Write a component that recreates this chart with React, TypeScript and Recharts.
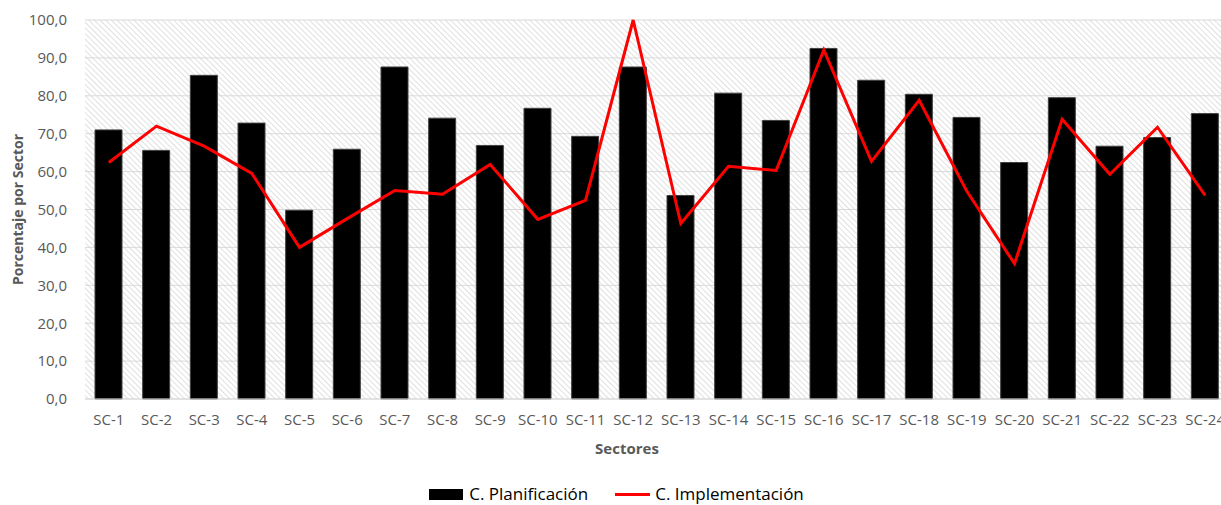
import {
  ComposedChart,
  Bar,
  Line,
  XAxis,
  YAxis,
  CartesianGrid,
  Legend,
} from "recharts";

const sectores = [
  "SC-1", "SC-2", "SC-3", "SC-4", "SC-5", "SC-6", "SC-7", "SC-8",
  "SC-9", "SC-10", "SC-11", "SC-12", "SC-13", "SC-14", "SC-15", "SC-16",
  "SC-17", "SC-18", "SC-19", "SC-20", "SC-21", "SC-22", "SC-23", "SC-24",
];

const planificacion = [
  71.0, 65.6, 85.4, 72.8, 49.8, 65.9, 87.6, 74.1,
  66.9, 76.7, 69.3, 87.6, 53.7, 80.7, 73.5, 92.5,
  84.1, 80.4, 74.3, 62.4, 79.5, 66.7, 69.0, 75.3,
];

const implementacion = [
  62.4, 72.0, 66.7, 59.5, 40.0, 47.6, 55.0, 54.0,
  61.9, 47.4, 52.4, 100.0, 46.3, 61.4, 60.3, 92.1,
  62.7, 78.8, 54.8, 35.7, 73.8, 59.3, 71.7, 53.7,
];

const yTicks = [0, 10, 20, 30, 40, 50, 60, 70, 80, 90, 100];

const data = sectores.map((s, i) => ({
  sector: s,
  plan: planificacion[i],
  impl: implementacion[i],
}));

const FONT = "'Open Sans', sans-serif";
const GRAY = "#595959";

const fmt = (v: number) => v.toFixed(1).replace(".", ",");

// y-axis title, rotated
const YTitle = (props: any) => {
  const vb = props.viewBox || {};
  const cx = (vb.x ?? 0) + 17;
  const cy = (vb.y ?? 0) + (vb.height ?? 0) / 2;
  return (
    <text
      x={cx}
      y={cy}
      transform={`rotate(-90 ${cx} ${cy})`}
      textAnchor="middle"
      dominantBaseline="central"
      fontFamily={FONT}
      fontSize={14}
      fontWeight="bold"
      fill={GRAY}
    >
      Porcentaje por Sector
    </text>
  );
};

const XTitle = (props: any) => {
  const vb = props.viewBox || {};
  const cx = (vb.x ?? 0) + (vb.width ?? 0) / 2;
  return (
    <text
      x={cx - 30}
      y={(vb.y ?? 0) + 49}
      textAnchor="middle"
      dominantBaseline="central"
      fontFamily={FONT}
      fontSize={15}
      fontWeight="bold"
      fill={GRAY}
    >
      Sectores
    </text>
  );
};

const LegendContent = () => (
  <div
    style={{
      display: "flex",
      justifyContent: "center",
      alignItems: "center",
      fontFamily: FONT,
      fontSize: 17,
      lineHeight: "20px",
      color: "#000",
      paddingLeft: 4,
    }}
  >
    <span style={{ display: "inline-block", width: 34, height: 11, background: "#000", marginRight: 6 }} />
    <span style={{ marginRight: 27 }}>C. Planificación</span>
    <span style={{ display: "inline-block", width: 35, height: 3, background: "#ff0000", marginRight: 5 }} />
    <span>C. Implementación</span>
  </div>
);

export default function App() {
  return (
    <div
      style={{
        position: "absolute",
        left: 0,
        top: 0,
        width: 1221,
        height: 505,
        overflow: "hidden",
        background: "#fff",
      }}
    >
      <ComposedChart
        width={1230}
        height={505}
        data={data}
        margin={{ top: 20, right: 1, bottom: 0, left: 0 }}
        barSize={27}
      >
        <defs>
          <pattern
            id="hatch"
            width="4"
            height="4"
            patternUnits="userSpaceOnUse"
            patternTransform="rotate(-45)"
          >
            <rect width="4" height="4" fill="#ffffff" />
            <line x1="0" y1="0" x2="0" y2="4" stroke="#d6d6d6" strokeWidth="1.5" />
          </pattern>
        </defs>
        <CartesianGrid
          vertical={false}
          stroke="#d9d9d9"
          fill="url(#hatch)"
          fillOpacity={1}
        />
        <XAxis
          dataKey="sector"
          height={68}
          tick={{ fontSize: 15, fill: GRAY, fontFamily: FONT }}
          tickLine={false}
          axisLine={{ stroke: "#d9d9d9" }}
          interval={0}
          tickMargin={9}
          label={<XTitle />}
        />
        <YAxis
          width={85}
          domain={[0, 100]}
          ticks={yTicks}
          tickFormatter={fmt}
          tick={{ fontSize: 15, fill: GRAY, fontFamily: FONT }}
          tickLine={false}
          axisLine={false}
          tickMargin={12}
          label={<YTitle />}
        />
        <Legend
          verticalAlign="bottom"
          wrapperStyle={{ paddingTop: 18, bottom: 1 }}
          content={<LegendContent />}
        />
        <Bar
          dataKey="plan"
          name="C. Planificación"
          fill="#000000"
          stroke="#404040"
          strokeWidth={1}
          isAnimationActive={false}
        />
        <Line
          dataKey="impl"
          name="C. Implementación"
          type="linear"
          stroke="#ff0000"
          strokeWidth={3}
          dot={false}
          activeDot={false}
          isAnimationActive={false}
        />
      </ComposedChart>
    </div>
  );
}
